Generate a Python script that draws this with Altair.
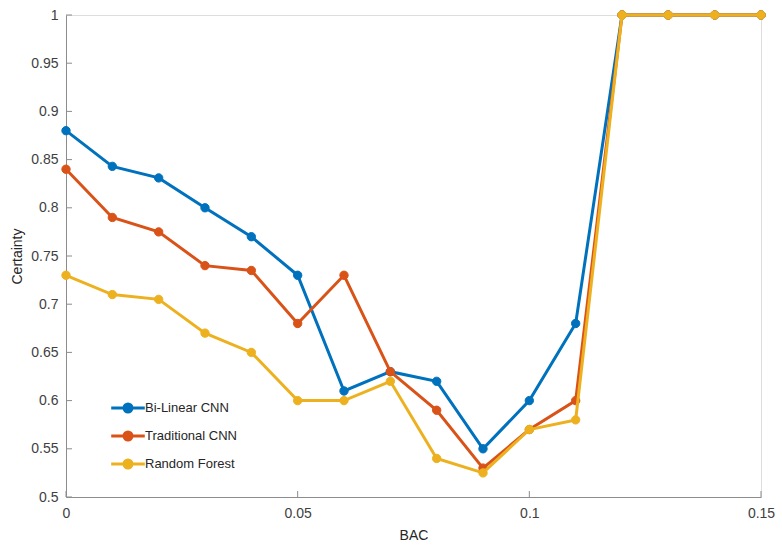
import altair as alt
import pandas as pd

bac = [0.00, 0.01, 0.02, 0.03, 0.04, 0.05, 0.06, 0.07, 0.08, 0.09, 0.10, 0.11, 0.12, 0.13, 0.14, 0.15]
bilinear = [0.88, 0.843, 0.831, 0.80, 0.77, 0.73, 0.61, 0.63, 0.62, 0.55, 0.60, 0.68, 1.0, 1.0, 1.0, 1.0]
traditional = [0.84, 0.79, 0.775, 0.74, 0.735, 0.68, 0.73, 0.63, 0.59, 0.53, 0.57, 0.60, 1.0, 1.0, 1.0, 1.0]
forest = [0.73, 0.71, 0.705, 0.67, 0.65, 0.60, 0.60, 0.62, 0.54, 0.525, 0.57, 0.58, 1.0, 1.0, 1.0, 1.0]
series_names = ["Bi-Linear CNN", "Traditional CNN", "Random Forest"]
colors = ["#0072BD", "#D95319", "#EDB120"]
x_ticks = [0, 0.05, 0.1, 0.15]
y_ticks = [0.5, 0.55, 0.6, 0.65, 0.7, 0.75, 0.8, 0.85, 0.9, 0.95, 1.0]

rows = []
for name, vals in zip(series_names, [bilinear, traditional, forest]):
    for xv, yv in zip(bac, vals):
        rows.append({"BAC": xv, "Certainty": yv, "Model": name})
df = pd.DataFrame(rows)

W, H = 695, 482
FONT = "Liberation Sans"

xs = alt.Scale(domain=[0, 0.15], nice=False, zero=False)
ys = alt.Scale(domain=[0.5, 1.0], nice=False, zero=False)
cs = alt.Scale(domain=series_names, range=colors)

legend = alt.Legend(
    title=None, orient="none", legendX=50, legendY=381, padding=0,
    symbolType="M-1.6,0L1.6,0M-0.38,0A0.38,0.38 0 1,1 0.38,0A0.38,0.38 0 1,1 -0.38,0Z",
    symbolSize=441, symbolStrokeWidth=3, labelOffset=5, rowPadding=6,
    labelFont=FONT, labelFontSize=13, labelColor="#262626", symbolOpacity=1,
)

x_axis = alt.Axis(values=x_ticks, format="~g", ticks=False, grid=False,
                  labelFont=FONT, labelFontSize=14, labelColor="#404040", labelPadding=9,
                  domainColor="#8c8c8c", title="BAC", titleFont=FONT, titleFontSize=14,
                  titleFontWeight="normal", titleColor="#262626", titlePadding=8,
                  labelFlush=False)
y_axis = alt.Axis(values=y_ticks, format="~g", ticks=False, grid=False,
                  labelFont=FONT, labelFontSize=14, labelColor="#404040", labelPadding=8,
                  domainColor="#8c8c8c", title="Certainty", titleFont=FONT, titleFontSize=14,
                  titleFontWeight="normal", titleColor="#262626", titlePadding=6)

base = alt.Chart(df)
layers = []
for i, name in enumerate(series_names):
    sub = base.transform_filter(alt.datum.Model == name)
    line = sub.mark_line(strokeWidth=3).encode(
        x=alt.X("BAC:Q", scale=xs, axis=x_axis),
        y=alt.Y("Certainty:Q", scale=ys, axis=y_axis),
        stroke=alt.Stroke("Model:N", scale=cs, legend=legend),
    )
    pts = sub.mark_point(filled=True, size=70, opacity=1, strokeWidth=1).encode(
        x="BAC:Q",
        y="Certainty:Q",
        fill=alt.Fill("Model:N", scale=cs, legend=legend),
        stroke=alt.Stroke("Model:N", scale=cs, legend=legend),
    )
    layers += [line, pts]

yt = pd.DataFrame({"v": y_ticks})
xt = pd.DataFrame({"v": x_ticks})
ytick = alt.Chart(yt).mark_rule(color="#8c8c8c", strokeWidth=1).encode(
    y=alt.Y("v:Q", scale=ys), x=alt.value(0), x2=alt.value(6))
xtick = alt.Chart(xt).mark_rule(color="#8c8c8c", strokeWidth=1).encode(
    x=alt.X("v:Q", scale=xs), y=alt.value(H), y2=alt.value(H - 6))

chart = alt.layer(ytick, xtick, *layers).properties(
    width=W, height=H,
    autosize=alt.AutoSizeParams(type="none"),
    padding={"left": 66, "top": 15, "right": 21, "bottom": 52},
).configure_view(stroke=None).configure(background="white")

chart.save("out.html", embed_options={"renderer": "svg", "actions": False})
